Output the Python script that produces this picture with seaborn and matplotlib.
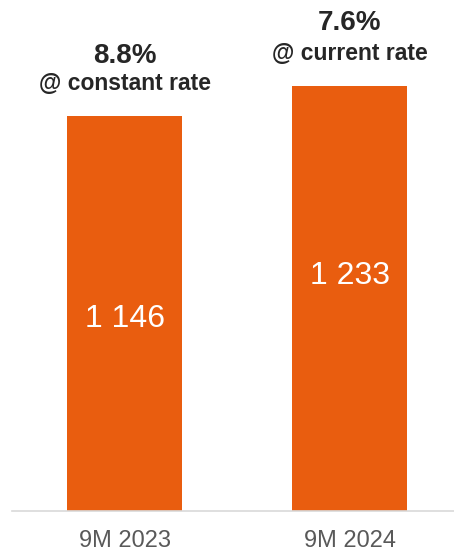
import matplotlib
matplotlib.use("Agg")
import matplotlib.pyplot as plt
import seaborn as sns
import pandas as pd

periods = ["9M 2023", "9M 2024"]
revenue = [1146, 1233]
growth = ["8.8%", "7.6%"]
growth_note = ["@ constant rate", "@ current rate"]

# label positions (data units)
value_label_y = [534, 658]
growth_y = [1300, 1395]
note_y = [1221, 1308]

sns.set_theme(style="white")
plt.rcParams['font.family'] = ['Liberation Sans', 'DejaVu Sans']

df = pd.DataFrame({"period": periods, "revenue": revenue})

fig = plt.figure(figsize=(4.54, 5.52), dpi=100)
ax = fig.add_axes([12/454, 41/552, 442/454, 511/552])

sns.barplot(data=df, x="period", y="revenue", color="#E95D0F", saturation=1,
            width=0.511, linewidth=0, edgecolor="none", ax=ax)

ax.set_xlim(-0.5, 1.464)
ax.set_ylim(0, 1482)
ax.set_xlabel("")
ax.set_ylabel("")
ax.set_yticks([])
for s in ["left", "top", "right"]:
    ax.spines[s].set_visible(False)
ax.spines["bottom"].set_color("#D9D9D9")
ax.spines["bottom"].set_linewidth(1.2)
ax.tick_params(axis="x", length=0, pad=14, labelsize=17, labelcolor="#595959")

for i, v in enumerate(revenue):
    ax.text(i, value_label_y[i], f"{v:,}".replace(",", " "), ha="center",
            va="baseline", color="white", fontsize=23)
    ax.text(i, growth_y[i], growth[i], ha="center", va="baseline",
            color="#262626", fontsize=20, fontweight="bold")
    ax.text(i, note_y[i], growth_note[i], ha="center", va="baseline",
            color="#262626", fontsize=16.5, fontweight="bold")

fig.savefig("out.png", dpi=100)
